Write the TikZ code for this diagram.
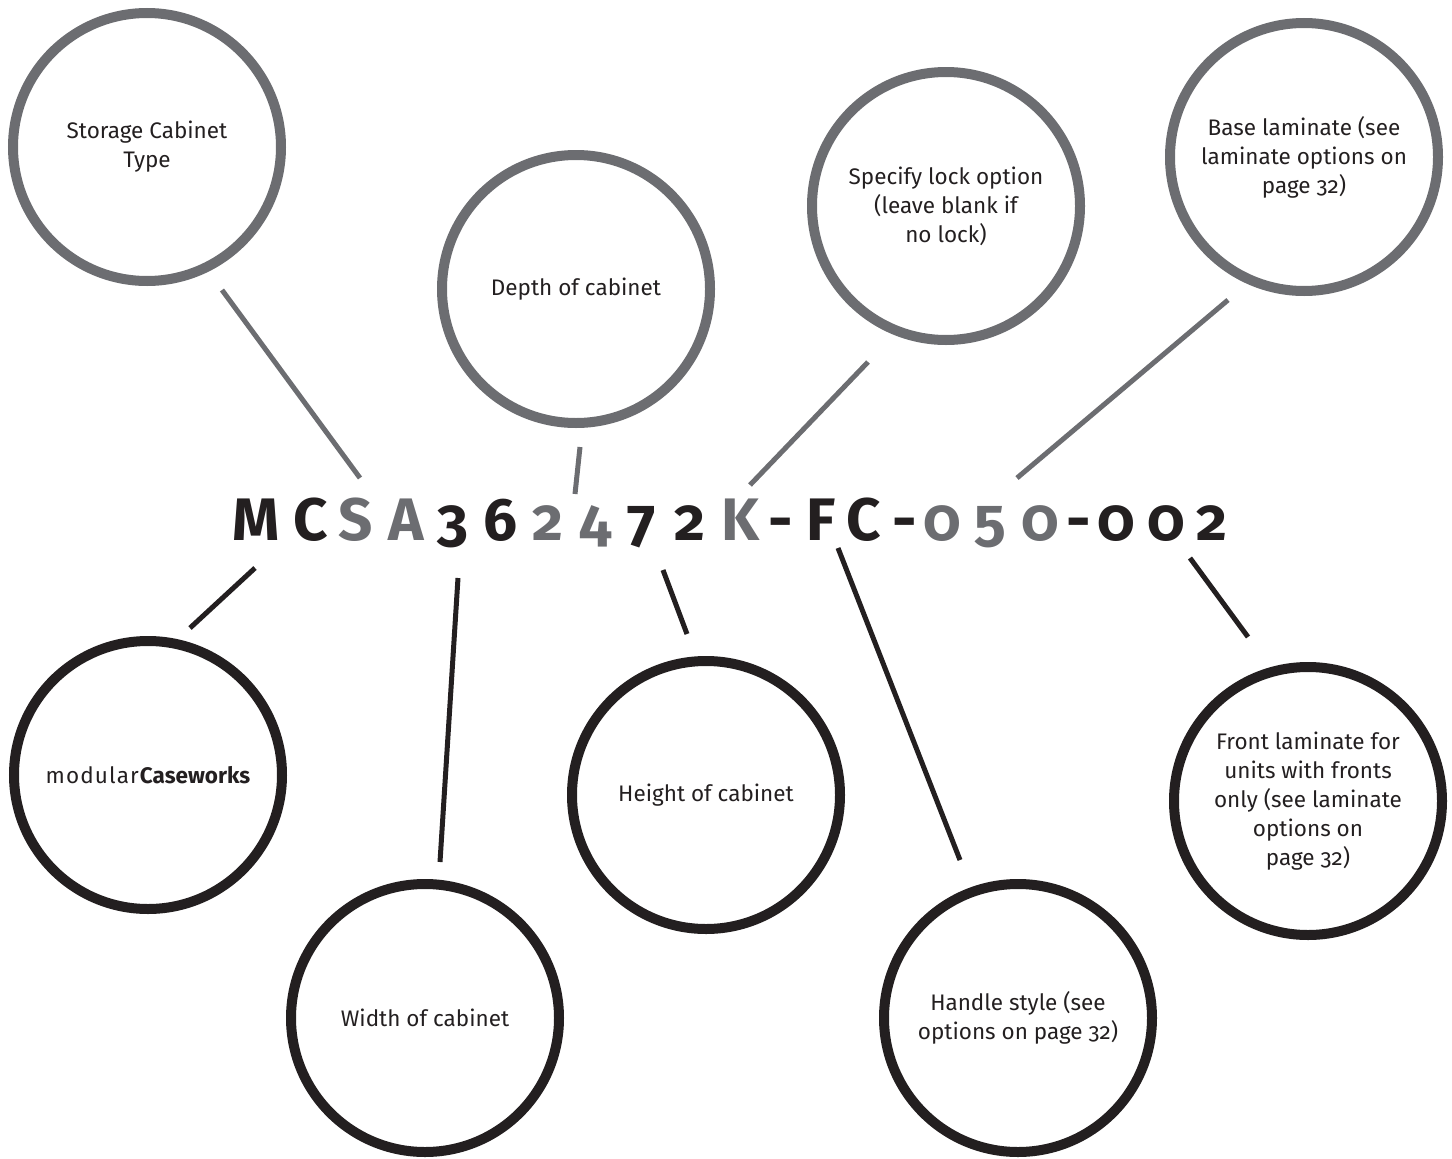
\documentclass[tikz,border=0pt]{standalone}
\usepackage{fontspec}
\setmainfont{Fira Sans}[Numbers=OldStyle]
\newfontfamily\brandword{Fira Sans}[LetterSpace=5]
\definecolor{slate}{RGB}{108,109,113}
\definecolor{ink}{RGB}{35,31,32}

\tikzset{
  bubble/.style={circle, line width=10pt, minimum size=268pt, inner sep=0pt,
                 align=center, text=ink, font=\fontsize{22.5}{29}\selectfont},
  greybubble/.style={bubble, draw=slate},
  inkbubble/.style={bubble, draw=ink},
  greyleg/.style={slate, line width=5pt},
  inkleg/.style={ink, line width=5pt},
  glyph/.style={anchor=base, inner sep=0pt, font=\bfseries\fontsize{60}{60}\selectfont},
}

\begin{document}
\begin{tikzpicture}[x=1pt, y=-1pt]
            \useasboundingbox (0,0) rectangle (1452,1159);
            % upper bubbles
            \node[greybubble] (type)  at ( 147, 147) {Storage Cabinet\\Type};
            \node[greybubble] (depth) at ( 576, 289) {Depth of cabinet};
            \node[greybubble] (lock)  at ( 946, 206) {Specify lock option\\(leave blank if\\no lock)};
            \node[greybubble] (base)  at (1304, 157) {Base laminate (see\\laminate options on\\page 32)};
            % lower bubbles
            \node[inkbubble] (brand)  at ( 148, 775) {{\brandword modular}\textbf{Caseworks}};
            \node[inkbubble] (width)  at ( 425,1018) {Width of cabinet};
            \node[inkbubble] (height) at ( 706, 795) {Height of cabinet};
            \node[inkbubble] (handle) at (1018,1018) {Handle style (see\\options on page 32)};
            \node[inkbubble] (front)  at (1308, 801) {Front laminate for\\units with fronts\\only (see laminate\\options on\\page 32)};
            % model code
            \node[glyph, ink]   (m)   at ( 256,540) {M};
            \node[glyph, ink]   (c1)  at ( 311,540) {C};
            \node[glyph, slate] (s)   at ( 356,540) {S};
            \node[glyph, slate] (a)   at ( 406,540) {A};
            \node[glyph, ink]   (n3)  at ( 453,540) {3};
            \node[glyph, ink]   (n6)  at ( 500,540) {6};
            \node[glyph, slate] (n2a) at ( 548,540) {2};
            \node[glyph, slate] (n4)  at ( 596,540) {4};
            \node[glyph, ink]   (n7)  at ( 642,540) {7};
            \node[glyph, ink]   (n2b) at ( 690,540) {2};
            \node[glyph, slate] (k)   at ( 740,540) {K};
            \node[glyph, ink]   (d1)  at ( 781,540) {-};
            \node[glyph, ink]   (f)   at ( 821,540) {F};
            \node[glyph, ink]   (c2)  at ( 864,540) {C};
            \node[glyph, ink]   (d2)  at ( 905,540) {-};
            \node[glyph, slate] (z1)  at ( 942,540) {0};
            \node[glyph, slate] (n5)  at ( 990,540) {5};
            \node[glyph, slate] (z2)  at (1040,540) {0};
            \node[glyph, ink]   (d3)  at (1079,540) {-};
            \node[glyph, ink]   (z3)  at (1116,540) {0};
            \node[glyph, ink]   (z4)  at (1166,540) {0};
            \node[glyph, ink]   (n2c) at (1212,540) {2};
            % leg ends
            \coordinate (typeleg)   at ( 222,290);  \coordinate (typetip)   at ( 360,478);
            \coordinate (depthleg)  at ( 580,447);  \coordinate (depthtip)  at ( 575,494);
            \coordinate (lockleg)   at ( 868,362);  \coordinate (locktip)   at ( 750,485);
            \coordinate (baseleg)   at (1228,300);  \coordinate (basetip)   at (1017,478);
            \coordinate (brandleg)  at ( 190,628);  \coordinate (brandtip)  at ( 255,568);
            \coordinate (widthleg)  at ( 440,862);  \coordinate (widthtip)  at ( 458,578);
            \coordinate (heightleg) at ( 687,634);  \coordinate (heighttip) at ( 663,570);
            \coordinate (handleleg) at ( 960,860);  \coordinate (handletip) at ( 838,548);
            \coordinate (frontleg)  at (1248,637);  \coordinate (fronttip)  at (1190,558);
            \draw[greyleg] (typeleg)   -- (typetip);
            \draw[greyleg] (depthleg)  -- (depthtip);
            \draw[greyleg] (lockleg)   -- (locktip);
            \draw[greyleg] (baseleg)   -- (basetip);
            \draw[inkleg]  (brandleg)  -- (brandtip);
            \draw[inkleg]  (widthleg)  -- (widthtip);
            \draw[inkleg]  (heightleg) -- (heighttip);
            \draw[inkleg]  (handleleg) -- (handletip);
            \draw[inkleg]  (frontleg)  -- (fronttip);
        \end{tikzpicture}
\end{document}
